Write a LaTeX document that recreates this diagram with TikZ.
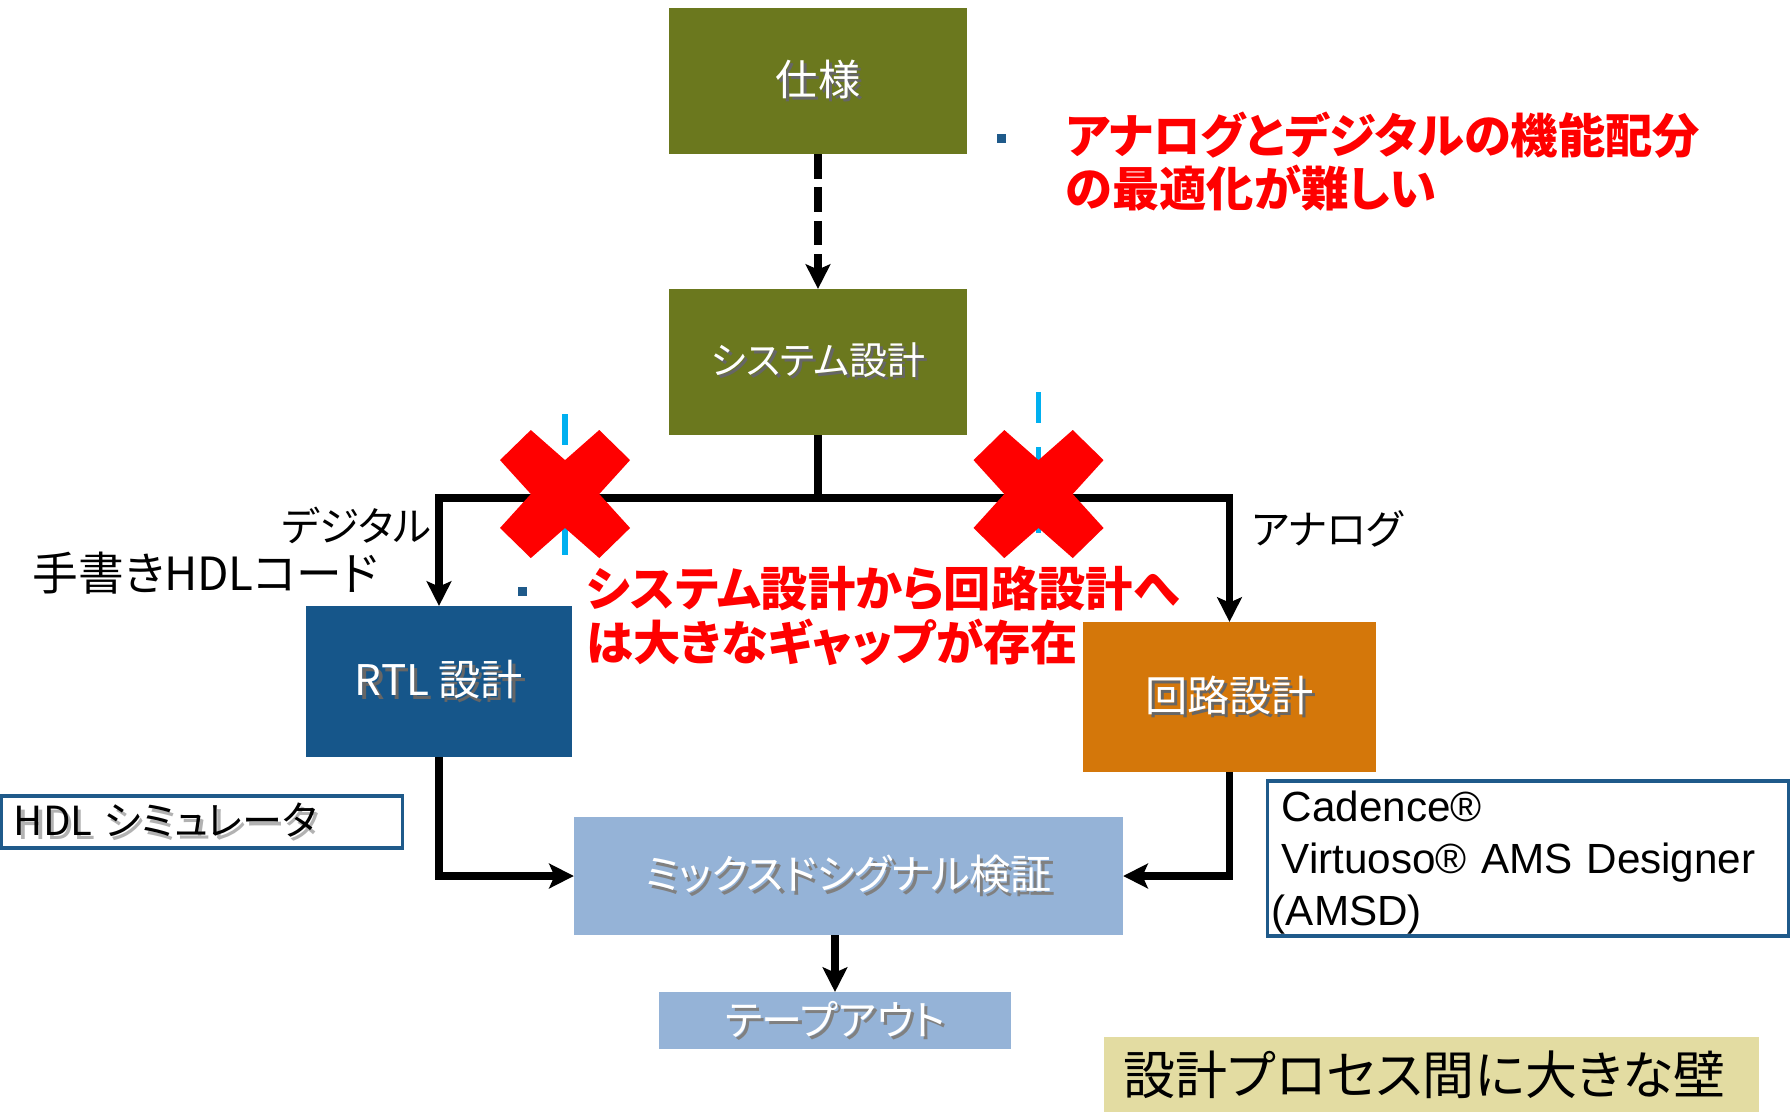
\documentclass[tikz,border=0pt]{standalone}
\usepackage{fontspec}
\usetikzlibrary{arrows.meta}
\setmainfont{Liberation Sans}
\newfontfamily\cjk{Noto Sans CJK JP}[RawFeature=+palt]
\definecolor{olivebox}{RGB}{107,120,30}
\definecolor{rtlblue}{RGB}{22,86,138}
\definecolor{circorange}{RGB}{212,119,10}
\definecolor{lightblue}{RGB}{149,179,215}
\definecolor{wallcol}{RGB}{227,220,162}
\definecolor{framecol}{RGB}{31,90,138}
\definecolor{gapcyan}{RGB}{0,176,240}
\newcommand\shadtxt[3]{\leavevmode\rlap{\kern0.9pt\raisebox{-0.9pt}{\textcolor{#2}{#3}}}\textcolor{#1}{#3}}
\newcommand\fsz[1]{\fontsize{#1}{#1}\selectfont}
\tikzset{
  blk/.style={fill=#1, draw=none, inner sep=0pt, outer sep=0pt},
  framed/.style={fill=white, draw=framecol, line width=0.9pt, inner ysep=0pt, outer sep=0pt, align=left},
  conn/.style={line width=2pt, black},
  tip/.style={-{Stealth[length=7pt,width=7pt,inset=1.5pt]}},
  redtxt/.style={text=red, font=\cjk\bfseries\fontsize{13.45}{15.3}\selectfont, align=left, inner sep=0pt},
  lbl/.style={text=black, font=\cjk\fontsize{11.5}{13}\selectfont, inner sep=0pt},
  gapline/.style={gapcyan, line width=1.7pt, dash pattern=on 8.8pt off 6.8pt},
  redx/.pic={\fill[red,x=1.30cm,y=-1.28cm] (0.237,0) -- (0.5,0.235) -- (0.763,0) -- (1,0.235) -- (0.763,0.5) -- (1,0.765) -- (0.763,1) -- (0.5,0.765) -- (0.237,1) -- (0,0.765) -- (0.237,0.5) -- (0,0.235) -- cycle;}
}
\begin{document}
\begin{tikzpicture}[x=0.01cm,y=-0.01cm]
\useasboundingbox (0,0) rectangle (1790,1112);
% boxes
\node[blk=olivebox, minimum width=2.98cm, minimum height=1.46cm] (spec) at (818,81) {\cjk\fsz{12}\shadtxt{white}{black!60}{仕様}};
\node[blk=olivebox, minimum width=2.98cm, minimum height=1.46cm] (sys) at (818,362) {\cjk\fsz{10.8}\shadtxt{white}{black!60}{システム設計}};
\node[blk=rtlblue, minimum width=2.66cm, minimum height=1.51cm] (rtl) at (439,681.5) {\cjk\fsz{12}\shadtxt{white}{black!60}{RTL 設計}};
\node[blk=circorange, minimum width=2.93cm, minimum height=1.50cm] (circ) at (1229.5,697) {\cjk\fsz{12}\shadtxt{white}{black!60}{回路設計}};
\node[blk=lightblue, minimum width=5.49cm, minimum height=1.18cm] (mix) at (848.5,876) {\cjk\fsz{11.7}\shadtxt{white}{black!50}{ミックスドシグナル検証}};
\node[blk=lightblue, minimum width=3.52cm, minimum height=0.57cm] (tape) at (835,1020.5) {\cjk\fsz{11.7}\shadtxt{white}{black!50}{テープアウト}};
\node[framed, text width=3.76cm, inner xsep=0.12cm, minimum height=0.52cm] (hdlsim) at (202,822) {\cjk\fsz{11.4}\shadtxt{black}{black!30}{HDL シミュレータ}};
\node[framed, text width=4.92cm, inner xsep=0.14cm, minimum height=1.55cm, font=\fontsize{12}{14.7}\selectfont] (cad) at (1528,858.5) {\rule{0pt}{11pt}Cadence®\\Virtuoso® AMS Designer\\\hspace*{-0.1cm}(AMSD)};
\node[blk=wallcol, text width=6.15cm, inner xsep=0.2cm, minimum height=0.75cm, align=left, font=\cjk\fsz{14.8}] (wall) at (1431.5,1074.5) {設計プロセス間に大きな壁};
% connectors
\draw[conn, tip, dash pattern=on 7pt off 2.5pt] (spec.south) -- (sys.north);
\coordinate (hub) at (818,498);
\draw[conn] (sys.south) -- (hub);
\draw[conn, tip] (hub) -| (rtl.north);
\draw[conn, tip] (hub) -| (circ.north);
\draw[conn, tip] (rtl.south) |- (mix.west);
\draw[conn, tip] (circ.south) |- (mix.east);
\draw[conn, tip] (mix.south -| tape.north) -- (tape.north);
% gap markers
\draw[gapline] (565,414) -- (565,558);
\draw[gapline] (1038.5,392) -- (1038.5,534);
\pic at (500,430) {redx};
\pic at (973.5,430) {redx};
% bullets
\fill[framecol] (997,134) rectangle (1006,143);
\fill[framecol] (518,587) rectangle (527,596);
% texts
\node[redtxt, anchor=west] (note1) at (1065,161.5) {アナログとデジタルの機能配分\\の最適化が難しい};
\node[redtxt, anchor=west] (note2) at (586,616) {システム設計から回路設計へ\\は大きなギャップが存在};
\node[lbl, anchor=east] (dig) at (432,525) {デジタル};
\node[lbl, anchor=west, font=\cjk\fontsize{13}{15}\selectfont] (hand) at (32,573) {手書きHDLコード};
\node[lbl, anchor=west] (ana) at (1251,529) {アナログ};
\end{tikzpicture}
\end{document}
